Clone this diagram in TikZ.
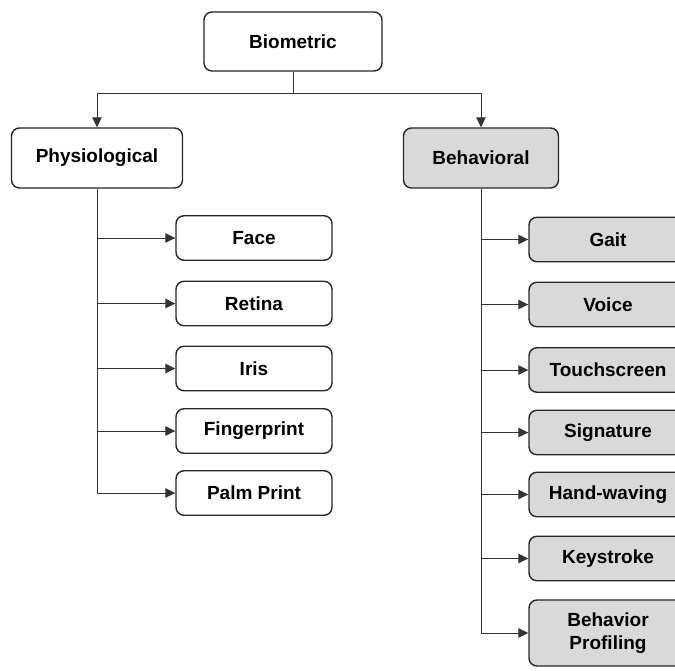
\documentclass[tikz,border=0pt]{standalone}
\usepackage{fontspec}
\setmainfont{Liberation Sans}
\usetikzlibrary{arrows.meta}
\definecolor{boxgray}{HTML}{D9D9D9}
\begin{document}
\begin{tikzpicture}[x=1pt,y=-1pt,
  box/.style={draw=black!85,line width=1.4pt,rounded corners=8pt,font=\fontsize{19}{23}\selectfont\bfseries,align=center,inner sep=0pt},
  wbox/.style={box,fill=white},
  gbox/.style={box,fill=boxgray},
  conn/.style={draw=black!80,line width=1pt},
  arr/.style={conn,-{Triangle[length=10pt,width=9.5pt]}}]
\useasboundingbox (0,0) rectangle (675,670);
\clip (0,0) rectangle (675,670);
\node[wbox,minimum width=178pt,minimum height=59pt] (bio) at (293,41.5) {Biometric};
\node[wbox,minimum width=171pt,minimum height=60pt] (phys) at (97,158) {Physiological};
\node[gbox,minimum width=155pt,minimum height=60pt] (beh) at (481,158) {Behavioral};
% left children
\foreach \n/\t/\y in {face/Face/238,retina/Retina/303.5,iris/Iris/368.5,finger/Fingerprint/431,palm/Palm Print/493}
  \node[wbox,minimum width=156pt,minimum height=44.5pt] (\n) at (254,\y) {\t};
% right children
\foreach \n/\t/\y in {gait/Gait/239.5,voice/Voice/304.5,touch/Touchscreen/370,sig/Signature/432.5,hand/Hand-waving/494.5,key/Keystroke/558.5}
  \node[gbox,minimum width=158pt,minimum height=44.5pt] (\n) at (608,\y) {\t};
\node[gbox,minimum width=158pt,minimum height=66pt] (prof) at (608,633) {Behavior\\Profiling};
% top connectors
\coordinate (split) at (293,93);
\draw[conn] (bio.south) -- (split);
\draw[arr] (split) -| (phys.north);
\draw[arr] (split) -| (beh.north);
% left branch
\draw[arr] (phys.south) |- (palm.west);
\foreach \n in {face,retina,iris,finger}
  \draw[arr] (phys.south |- \n.west) -- (\n.west);
% right branch
\draw[arr] (beh.south) |- (prof.west);
\foreach \n in {gait,voice,touch,sig,hand,key}
  \draw[arr] (beh.south |- \n.west) -- (\n.west);
\end{tikzpicture}
\end{document}
